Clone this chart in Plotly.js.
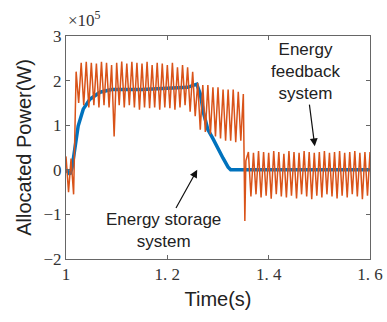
<!DOCTYPE html>
<html>
<head>
<meta charset="utf-8">
<script src="https://cdn.plot.ly/plotly-3.0.1.min.js"></script>
<style>html,body{margin:0;padding:0;background:#fff;}#chart{width:387px;height:322px;}</style>
</head>
<body>
<div id="chart"></div>
<script>
// Energy feedback system (orange) – sampled at each half oscillation
var feedbackTime = [
  1.000,1.005,1.010,1.015,1.020,1.025,1.030,1.035,1.040,1.045,
  1.050,1.055,1.060,1.065,1.070,1.075,1.080,1.085,1.090,1.095,
  1.100,1.105,1.110,1.115,1.120,1.125,1.130,1.135,1.140,1.145,
  1.150,1.155,1.160,1.165,1.170,1.175,1.180,1.185,1.190,1.195,
  1.200,1.205,1.210,1.215,1.220,1.225,1.230,1.235,1.240,1.245,
  1.250,1.255,1.260,1.265,1.270,1.275,1.280,1.285,1.290,1.295,
  1.300,1.305,1.310,1.315,1.320,1.325,1.330,1.335,1.340,1.345,
  1.350,1.353,1.355,1.360,1.365,1.370,1.375,1.380,1.385,1.390,
  1.395,1.400,1.405,1.410,1.415,1.420,1.425,1.430,1.435,1.440,
  1.445,1.450,1.455,1.460,1.465,1.470,1.475,1.480,1.485,1.490,
  1.495,1.500,1.505,1.510,1.515,1.520,1.525,1.530,1.535,1.540,
  1.545,1.550,1.555,1.560,1.565,1.570,1.575,1.580,1.585,1.590,
  1.595,1.600
];
var feedbackPower = [
  0.30,-0.50,0.25,-0.55,2.20,1.50,2.40,1.45,2.42,1.40,
  2.40,1.45,2.38,1.40,2.42,1.45,2.40,1.40,2.35,0.75,
  2.40,1.45,2.43,1.40,2.38,1.45,2.42,1.40,2.40,1.35,
  2.38,1.40,2.42,1.38,2.35,1.40,2.40,1.35,2.38,1.40,
  2.35,1.38,2.40,1.35,2.30,1.40,2.35,1.45,2.30,1.30,
  2.20,1.20,1.95,0.90,1.90,0.85,1.90,0.80,1.85,0.75,
  1.85,0.70,1.80,0.65,1.80,0.65,1.80,0.62,1.75,0.65,
  1.70,-1.15,0.20,0.40,-0.60,0.38,-0.55,0.42,-0.62,0.40,
  -0.58,0.38,-0.65,0.42,-0.55,0.40,-0.60,0.36,-0.62,0.42,
  -0.58,0.40,-0.64,0.38,-0.55,0.42,-0.60,0.40,-0.66,0.38,
  -0.58,0.40,-0.62,0.42,-0.55,0.38,-0.60,0.40,-0.64,0.42,
  -0.58,0.38,-0.62,0.40,-0.55,0.42,-0.60,0.38,-0.66,0.40,
  -0.58,0.40
];
// Energy storage system (blue)
var storageTime  = [1.000,1.008,1.012,1.018,1.024,1.034,1.047,1.067,1.090,1.150,1.200,1.240,1.258,1.265,1.272,1.280,1.290,1.300,1.310,1.320,1.325,1.355,1.600];
var storagePower = [0.00,-0.10,0.05,0.46,0.98,1.36,1.58,1.74,1.80,1.80,1.82,1.85,1.92,1.70,1.25,0.90,0.70,0.47,0.26,0.06,0.00,0.00,0.00];

var xTickVals = [1, 1.2, 1.4, 1.6];
var xTickText = ["1", "1. 2", "1. 4", "1. 6"];
var yTickVals = [-2, -1, 0, 1, 2, 3];
var yTickText = ["\u22122", "\u22121", "0", "1", "2", "3"];

var traces = [
  {x: storageTime, y: storagePower, mode: 'lines', line: {color: '#0072BD', width: 3.5}, hoverinfo: 'none'},
  {x: feedbackTime, y: feedbackPower, mode: 'lines', line: {color: '#D95319', width: 1.5}, hoverinfo: 'none'}
];

var tickFont = {family: 'Liberation Serif, DejaVu Serif, serif', size: 17, color: '#333'};
var annFont = {family: 'Liberation Sans, Arial, sans-serif', size: 17, color: '#222'};

var layout = {
  width: 387, height: 322,
  margin: {l: 66, r: 17, t: 36, b: 63, pad: 0},
  paper_bgcolor: '#fff', plot_bgcolor: '#fff',
  showlegend: false,
  xaxis: {
    range: [1, 1.6], tickmode: 'array', tickvals: xTickVals, ticktext: xTickText,
    ticks: 'inside', ticklen: 4, tickcolor: '#666', showline: true, linecolor: '#666', linewidth: 1,
    mirror: 'ticks', showgrid: false, zeroline: false, tickfont: tickFont,
    title: {text: 'Time(s)', font: {family: 'Liberation Sans, Arial, sans-serif', size: 20, color: '#222'}, standoff: 8}
  },
  yaxis: {
    range: [-2, 3], tickmode: 'array', tickvals: yTickVals, ticktext: yTickText,
    ticks: 'inside', ticklen: 4, tickcolor: '#666', showline: true, linecolor: '#666', linewidth: 1,
    mirror: 'ticks', showgrid: false, zeroline: false, tickfont: tickFont,
    title: {text: 'Allocated Power(W)', font: {family: 'Liberation Sans, Arial, sans-serif', size: 20, color: '#222'}, standoff: 6}
  },
  annotations: [
    {xref: 'paper', yref: 'paper', x: 0, y: 1, xanchor: 'left', yanchor: 'bottom', yshift: 4,
     text: '\u00d710<sup>5</sup>', showarrow: false, font: {family: 'Liberation Serif, serif', size: 17, color: '#333'}},
    {x: 1.259, y: 0.0, ax: 1.193, ay: -1.35, axref: 'x', ayref: 'y', showarrow: true,
     arrowhead: 2, arrowsize: 1.3, arrowwidth: 1.2, arrowcolor: '#111',
     text: 'Energy storage<br>system', font: annFont, align: 'center'},
    {x: 1.491, y: 0.53, ax: 1.472, ay: 2.2, axref: 'x', ayref: 'y', showarrow: true,
     arrowhead: 2, arrowsize: 1.3, arrowwidth: 1.2, arrowcolor: '#111',
     text: 'Energy<br>feedback<br>system', font: annFont, align: 'center'}
  ]
};

Plotly.newPlot('chart', traces, layout, {staticPlot: true, displayModeBar: false});
</script>
</body>
</html>
